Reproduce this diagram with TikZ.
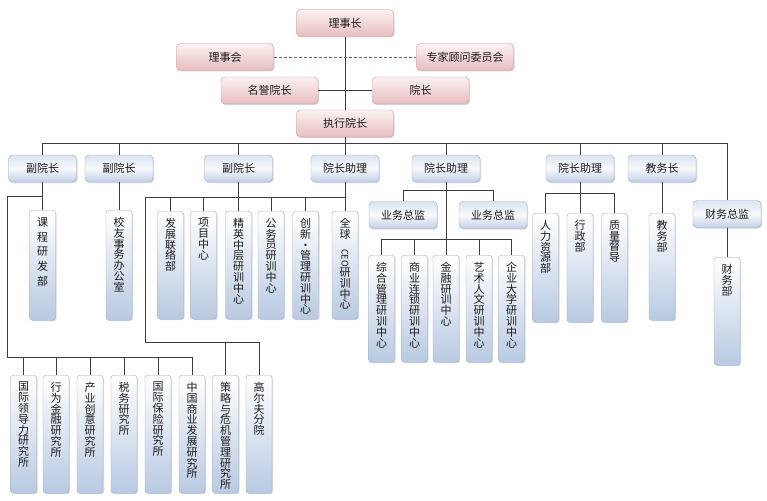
\documentclass[tikz,border=0pt]{standalone}
\usepackage{fontspec}
\usepackage{graphicx}
\newfontfamily\cjk{Noto Sans CJK SC}
\usetikzlibrary{shadows}

\definecolor{linec}{HTML}{3C3C3C}
\definecolor{dashc}{HTML}{666666}
\definecolor{txtc}{HTML}{1A1A1A}
\definecolor{pinkt}{HTML}{FCF1F1}
\definecolor{pinkb}{HTML}{E7BDBF}
\definecolor{pinkl}{HTML}{C29A9C}
\definecolor{bluet}{HTML}{DCE4EF}
\definecolor{bluem}{HTML}{F7F9FC}
\definecolor{blueb}{HTML}{C2D0E5}
\definecolor{bluel}{HTML}{9EAAC0}
\definecolor{vblue}{HTML}{B8C9E1}

% vertical text, set from the top of its box
\newcommand{\vt}[2]{\parbox[t][#1pt][t]{26pt}{\centering\vspace*{7pt}#2}}

\begin{document}
\begin{tikzpicture}[x=1pt, y=-1pt,
    link/.style={draw=linec, line width=0.8pt},
    pinkbox/.style={draw=pinkl, rounded corners=4pt, top color=pinkt, bottom color=pinkb,
        minimum width=97, minimum height=27, inner sep=0, text=txtc,
        font=\cjk\fontsize{11}{13}\selectfont,
        drop shadow={shadow xshift=1pt, shadow yshift=-1pt, opacity=0.3}},
    bluebox/.style={draw=bluel, rounded corners=4pt, top color=bluet, bottom color=blueb, middle color=bluem,
        minimum width=68, minimum height=27, inner sep=0, text=txtc,
        font=\cjk\fontsize{11}{13}\selectfont,
        drop shadow={shadow xshift=1pt, shadow yshift=-1pt, opacity=0.3}},
    vbox/.style={draw=bluel, rounded corners=3pt, top color=white, bottom color=vblue,
        anchor=north, inner sep=0, text=txtc,
        font=\cjk\fontsize{11}{10.8}\selectfont,
        drop shadow={shadow xshift=1pt, shadow yshift=-1pt, opacity=0.3}}]
    \useasboundingbox (0,0) rectangle (767,500);

    % Board
    \node[pinkbox] (lsz) at (345,23) {理事长};
    \node[pinkbox] (lsh) at (225,57) {理事会};
    \node[pinkbox] (zjgw) at (465,57) {专家顾问委员会};
    \node[pinkbox] (mydz) at (269.5,90.5) {名誉院长};
    \node[pinkbox] (yz) at (420.5,90.5) {院长};
    \node[pinkbox] (zxyz) at (345,123.5) {执行院长};

    % Second level
    \node[bluebox] (fyz1) at (42.5,168.5) {副院长};
    \node[bluebox] (fyz2) at (119,168.5) {副院长};
    \node[bluebox] (fyz3) at (238.5,168.5) {副院长};
    \node[bluebox] (yzzl1) at (345,168.5) {院长助理};
    \node[bluebox] (yzzl2) at (446,168.5) {院长助理};
    \node[bluebox] (yzzl3) at (580,168.5) {院长助理};
    \node[bluebox] (jwz) at (662,168.5) {教务长};
    \node[bluebox] (cwzj) at (727,214) {财务总监};
    \node[bluebox] (yw1) at (403,215) {业务总监};
    \node[bluebox] (yw2) at (493,215) {业务总监};

    % Departments
    \node[vbox] (kc) at (42.5,210) {\vt{110}{课\\[4pt]程\\[4pt]研\\[4pt]发\\[4pt]部}};
    \node[vbox] (xy) at (119,210) {\vt{110}{校\\友\\事\\务\\办\\公\\室}};
    \node[vbox] (fz) at (170.5,211) {\vt{108}{发\\展\\联\\络\\部}};
    \node[vbox] (xm) at (203.5,211) {\vt{108}{项\\目\\中\\心}};
    \node[vbox] (jy) at (238.5,211) {\vt{108}{精\\英\\中\\层\\研\\训\\中\\心}};
    \node[vbox] (gwy) at (271,211) {\vt{108}{公\\务\\员\\研\\训\\中\\心}};
    \node[vbox] (cx) at (305.5,211) {\vt{108}{创\\新\\•\\管\\理\\研\\训\\中\\心}};
    \node[vbox] (qq) at (345,211) {\vt{108}{全\\球\\{\fontsize{9}{9}\selectfont\rotatebox{-90}{CEO}}\\研\\训\\中\\心}};
    \node[vbox] (zh) at (381.5,255) {\vt{107}{综\\合\\管\\理\\研\\训\\中\\心}};
    \node[vbox] (sy) at (414.5,255) {\vt{107}{商\\业\\连\\锁\\研\\训\\中\\心}};
    \node[vbox] (jr) at (446,255) {\vt{107}{金\\融\\研\\训\\中\\心}};
    \node[vbox] (ys) at (479,255) {\vt{107}{艺\\术\\人\\文\\研\\训\\中\\心}};
    \node[vbox] (qy) at (511.5,255) {\vt{107}{企\\业\\大\\学\\研\\训\\中\\心}};
    \node[vbox] (rl) at (545.5,213) {\vt{109}{人\\力\\资\\源\\部}};
    \node[vbox] (xz) at (580,213) {\vt{109}{行\\政\\部}};
    \node[vbox] (zldd) at (614.5,213) {\vt{109}{质\\量\\督\\导}};
    \node[vbox] (jw) at (662,213) {\vt{107}{教\\务\\部}};
    \node[vbox] (cw) at (727,257) {\vt{108}{财\\务\\部}};

    % Institutes
    \node[vbox] (gjld) at (23.5,375) {\vt{118}{国\\际\\领\\导\\力\\研\\究\\所}};
    \node[vbox] (xwjr) at (56,375) {\vt{118}{行\\为\\金\\融\\研\\究\\所}};
    \node[vbox] (cycy) at (90,375) {\vt{118}{产\\业\\创\\意\\研\\究\\所}};
    \node[vbox] (swyj) at (124,375) {\vt{118}{税\\务\\研\\究\\所}};
    \node[vbox] (gjbx) at (158,375) {\vt{118}{国\\际\\保\\险\\研\\究\\所}};
    \node[vbox] (zgsy) at (192,375) {\vt{118}{中\\国\\商\\业\\发\\展\\研\\究\\所}};
    \node[vbox] (clwj) at (225.5,375) {\vt{118}{策\\略\\与\\危\\机\\管\\理\\研\\究\\所}};
    \node[vbox] (gef) at (259,375) {\vt{118}{高\\尔\\夫\\分\\院}};

    % Bus points
    \coordinate (bus) at (345,143);
    \coordinate (la) at (7,196);
    \coordinate (lbus) at (7,357);
    \coordinate (mb) at (145,197);
    \coordinate (mb2) at (145,342);
    \coordinate (zb) at (446,190);
    \coordinate (zc) at (446,239);
    \coordinate (zd) at (580,193);

    % Board links
    \draw[link] (lsz) -- (zxyz);
    \draw[link, draw=dashc, dash pattern=on 3pt off 2pt] (lsh) -- (zjgw);
    \draw[link] (mydz) -- (yz);
    \draw[link] (zxyz) -- (bus);

    % Main bus
    \draw[link] (fyz1.north) |- (bus); \draw[link] (fyz2.north) |- (bus);
    \draw[link] (fyz3.north) |- (bus); \draw[link] (yzzl1.north) |- (bus);
    \draw[link] (yzzl2.north) |- (bus); \draw[link] (yzzl3.north) |- (bus);
    \draw[link] (jwz.north) |- (bus); \draw[link] (cwzj.north) |- (bus);

    % Vice presidents
    \draw[link] (fyz1) -- (kc);
    \draw[link] (fyz2) -- (xy);
    \draw[link] (fyz3) -- (jy);
    \draw[link] (yzzl1) -- (qq);
    \draw[link] (fz.north) |- (mb); \draw[link] (xm.north) |- (mb);
    \draw[link] (gwy.north) |- (mb); \draw[link] (cx.north) |- (mb);
    \draw[link] (qq.north) |- (mb);

    % Assistants
    \draw[link] (yzzl2) -- (jr);
    \draw[link] (yw1.north) |- (zb); \draw[link] (yw2.north) |- (zb);
    \draw[link] (zh.north) |- (zc); \draw[link] (sy.north) |- (zc);
    \draw[link] (ys.north) |- (zc); \draw[link] (qy.north) |- (zc);
    \draw[link] (yzzl3) -- (xz);
    \draw[link] (rl.north) |- (zd); \draw[link] (zldd.north) |- (zd);
    \draw[link] (jwz) -- (jw);
    \draw[link] (cwzj) -- (cw);

    % Institutes
    \draw[link] (fyz1 |- la) -- (la) -- (lbus);
    \draw[link] (gjld.north) |- (lbus); \draw[link] (xwjr.north) |- (lbus);
    \draw[link] (cycy.north) |- (lbus); \draw[link] (swyj.north) |- (lbus);
    \draw[link] (gjbx.north) |- (lbus); \draw[link] (zgsy.north) |- (lbus);
    \draw[link] (mb) -- (mb2);
    \draw[link] (clwj.north) |- (mb2); \draw[link] (gef.north) |- (mb2);
\end{tikzpicture}
\end{document}
